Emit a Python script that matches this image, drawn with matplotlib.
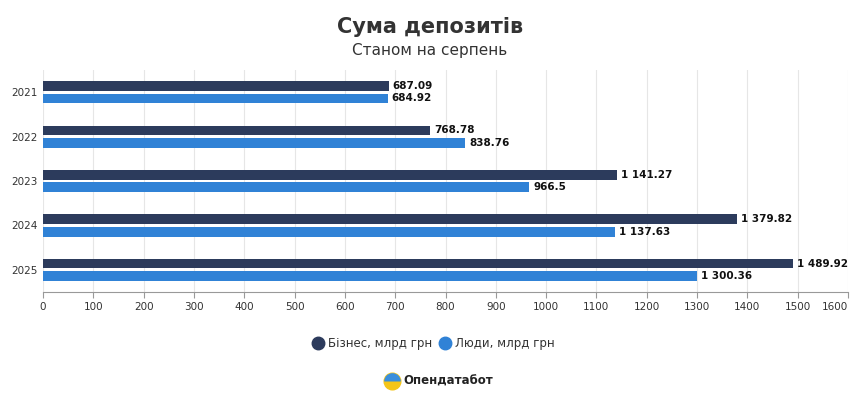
import matplotlib
matplotlib.use("Agg")
import matplotlib.pyplot as plt
from matplotlib.lines import Line2D
import numpy as np

years = ["2021", "2022", "2023", "2024", "2025"]
business = [687.09, 768.78, 1141.27, 1379.82, 1489.92]
people = [684.92, 838.76, 966.5, 1137.63, 1300.36]
business_labels = ["687.09", "768.78", "1 141.27", "1 379.82", "1 489.92"]
people_labels = ["684.92", "838.76", "966.5", "1 137.63", "1 300.36"]
xticks = list(range(0, 1700, 100))

c_bus = "#2c3b5c"
c_ppl = "#3082d6"

fig = plt.figure(figsize=(8.6, 4.01), dpi=100)
ax = fig.add_axes([43/860, 1-292/401, 805/860, 222/401])
y = np.arange(len(years))
h = 0.22
ax.barh(y - h/2 - 0.03, business, height=h, color=c_bus)
ax.barh(y + h/2 + 0.03, people, height=h, color=c_ppl)
for i in range(len(years)):
    ax.text(business[i] + 8, y[i] - h/2 - 0.03, business_labels[i], va="center", ha="left", fontsize=7.5, fontweight="bold", color="#111")
    ax.text(people[i] + 8, y[i] + h/2 + 0.03, people_labels[i], va="center", ha="left", fontsize=7.5, fontweight="bold", color="#111")
ax.set_ylim(4.5, -0.5)
ax.set_xlim(0, 1600)
ax.set_yticks(y)
ax.set_yticklabels(years, fontsize=7.5, color="#333")
ax.set_xticks(xticks)
labs = ax.set_xticklabels([str(t) for t in xticks], fontsize=7.5, color="#333")
labs[-1].set_ha("right")
ax.grid(axis="x", color="#e6e6e6", linewidth=0.8)
ax.set_axisbelow(True)
for s in ["top", "right", "left"]:
    ax.spines[s].set_visible(False)
ax.spines["bottom"].set_color("#999")
ax.tick_params(axis="y", length=0, pad=4)
ax.tick_params(axis="x", length=4, color="#999")

fig.text(0.5, 1-27/401, "Сума депозитів", ha="center", va="center", fontsize=15, fontweight="bold", color="#333")
fig.text(0.5, 1-50/401, "Станом на серпень", ha="center", va="center", fontsize=11, color="#333")

def dot(x, yy, c, ms=9):
    fig.add_artist(Line2D([x/860], [1-yy/401], transform=fig.transFigure, marker="o", ms=ms, color=c, linestyle="none"))

dot(318, 343, c_bus)
fig.text(328/860, 1-343/401, "Бізнес, млрд грн", va="center", fontsize=8.5, color="#333")
dot(445, 343, c_ppl)
fig.text(455/860, 1-343/401, "Люди, млрд грн", va="center", fontsize=8.5, color="#333")

dot(392, 381, "#f5c518", ms=12)
fig.add_artist(Line2D([392/860], [1-381/401], transform=fig.transFigure, marker="o", fillstyle="top", ms=12, color="#3a8fdc", markeredgewidth=0, linestyle="none"))
fig.text(403/860, 1-381/401, "Опендатабот", va="center", fontsize=8.5, fontweight="bold", color="#222")

fig.savefig("out.png", dpi=100, facecolor="white")
